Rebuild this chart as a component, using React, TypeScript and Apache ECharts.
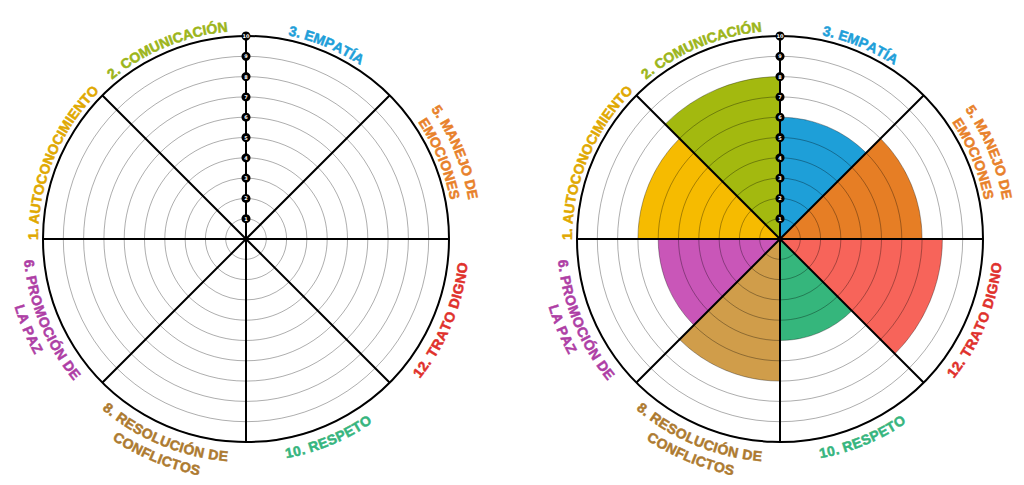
import React, { useEffect, useRef } from "react";
import * as echarts from "echarts";

// Categories clockwise from the top (12 o'clock)
const categories = [
  "3. EMPATÍA",
  "5. MANEJO DE\nEMOCIONES",
  "12. TRATO DIGNO",
  "10. RESPETO",
  "8. RESOLUCIÓN DE\nCONFLICTOS",
  "6. PROMOCIÓN DE\nLA PAZ",
  "1. AUTOCONOCIMIENTO",
  "2. COMUNICACIÓN",
];
const labelColors = ["#1f9fd9", "#e8812a", "#e0302b", "#36b57e", "#ad7a2f", "#ae3ea5", "#e0a800", "#9cb51a"];
const sectorColors = ["#1e9fd8", "#e67e25", "#f7645a", "#35b67c", "#d09d4a", "#c956b8", "#f6bb00", "#a3b90f"];
const scores = [6, 7, 8, 5, 7, 6, 7, 8];
const scaleTicks = [1, 2, 3, 4, 5, 6, 7, 8, 9, 10];

const CENTERS: [number, number][] = [
  [246, 239],
  [780, 239],
];
const R = 203;
const FONT = 'bold 14px "Liberation Sans"';

function curvedLabels(cx: number, cy: number, measure: (s: string) => number) {
  const els: any[] = [];
  categories.forEach((cat, i) => {
    let mid = 90 - 45 * i - 22.5;
    if (mid <= -180) mid += 360;
    const top = mid > 0;
    const lines = cat.split("\n");
    const n = lines.length;
    lines.forEach((line, j) => {
      const r = top ? 213 + (n - 1 - j) * 18 : 218 + j * 18;
      const spacing = 0.2;
      const chars = Array.from(line);
      const widths = chars.map((c) => measure(c) + spacing);
      const total = widths.reduce((a, b) => a + b, 0) - spacing;
      const midRad = (mid * Math.PI) / 180;
      let cum = 0;
      chars.forEach((ch, k) => {
        const w = widths[k];
        const off = (cum + (w - spacing) / 2 - total / 2) / r;
        cum += w;
        const th = top ? midRad - off : midRad + off;
        const rot = top ? th - Math.PI / 2 : th + Math.PI / 2;
        els.push({
          type: "text",
          x: cx + r * Math.cos(th),
          y: cy - r * Math.sin(th),
          rotation: rot,
          silent: true,
          style: {
            text: ch,
            font: FONT,
            fill: labelColors[i],
            stroke: labelColors[i],
            lineWidth: 0.5,
            textAlign: "center",
            textVerticalAlign: "middle",
            align: "center",
            verticalAlign: "middle",
          },
        });
      });
    });
  });
  return els;
}

export default function App() {
  const ref = useRef<HTMLDivElement>(null);
  useEffect(() => {
    if (!ref.current) return;
    const chart = echarts.init(ref.current, undefined, { renderer: "svg" });
    const canvas = document.createElement("canvas");
    const ctx = canvas.getContext("2d")!;
    ctx.font = FONT;
    const measure = (s: string) => ctx.measureText(s).width;

    const catAngle = (pi: number) => ({
      polarIndex: pi,
      type: "category",
      data: categories,
      startAngle: 90,
      clockwise: true,
      boundaryGap: true,
      z: 5,
      axisLine: { show: true, lineStyle: { color: "#000", width: 2 } },
      axisTick: { show: false },
      axisLabel: { show: false },
      splitLine: { show: true, lineStyle: { color: "#000", width: 2 } },
    });
    const valRadius = (pi: number) => ({
      polarIndex: pi,
      type: "value",
      min: 0,
      max: 10,
      interval: 1,
      z: 4,
      axisLine: { show: false },
      axisTick: { show: false },
      axisLabel: { show: false },
      splitLine: { show: true, lineStyle: { color: "rgba(0,0,0,0.32)", width: 1 } },
    });
    const hiddenAngle = (pi: number) => ({
      polarIndex: pi,
      type: "value",
      min: 0,
      max: 360,
      startAngle: 90,
      show: false,
    });
    const hiddenRadius = (pi: number) => ({
      polarIndex: pi,
      type: "value",
      min: 0,
      max: 10,
      show: false,
    });

    const dots = (pi: number) => ({
      type: "scatter",
      coordinateSystem: "polar",
      polarIndex: pi,
      symbol: "circle",
      symbolSize: 9,
      z: 10,
      silent: true,
      emphasis: { disabled: true },
      itemStyle: { color: "#000", opacity: 1 },
      label: {
        show: true,
        position: "inside",
        formatter: (p: any) => String(p.value[0]),
        color: "#fff",
        fontSize: 5,
        fontWeight: "bold",
        fontFamily: "DejaVu Sans",
      },
      data: scaleTicks.map((v) => [v, 0]),
    });

    chart.setOption({
      animation: false,
      backgroundColor: "#fff",
      polar: [
        { center: CENTERS[0], radius: R },
        { center: CENTERS[1], radius: R },
        { center: CENTERS[0], radius: R },
        { center: CENTERS[1], radius: R },
      ],
      angleAxis: [catAngle(0), catAngle(1), hiddenAngle(2), hiddenAngle(3)],
      radiusAxis: [valRadius(0), valRadius(1), hiddenRadius(2), hiddenRadius(3)],
      series: [
        {
          type: "bar",
          coordinateSystem: "polar",
          polarIndex: 0,
          barCategoryGap: "0%",
          silent: true,
          data: categories.map(() => "-"),
        },
        {
          type: "bar",
          coordinateSystem: "polar",
          polarIndex: 1,
          barCategoryGap: "0%",
          z: 2,
          silent: true,
          emphasis: { disabled: true },
          data: scores.map((v, i) => ({ value: v, itemStyle: { color: sectorColors[i] } })),
        },
        dots(2),
        dots(3),
      ],
      graphic: [...curvedLabels(CENTERS[0][0], CENTERS[0][1], measure), ...curvedLabels(CENTERS[1][0], CENTERS[1][1], measure)],
    });
    return () => chart.dispose();
  }, []);
  return (
    <div
      ref={ref}
      style={{ position: "absolute", left: 0, top: 0, width: 1024, height: 485 }}
    />
  );
}
